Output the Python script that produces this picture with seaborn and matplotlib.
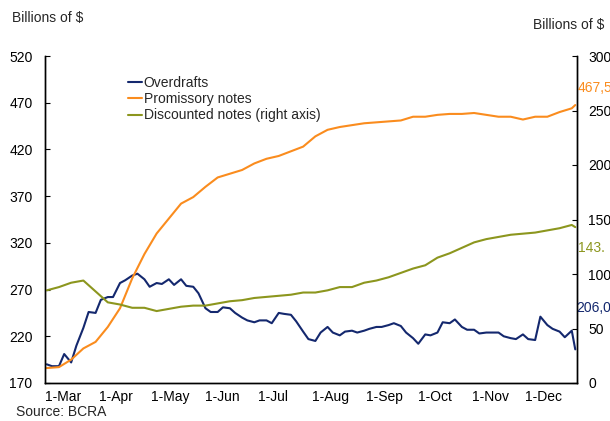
import pandas as pd
import matplotlib.pyplot as plt
import seaborn as sns

# --- data ---
mondays = pd.date_range('2020-03-02', '2020-12-28', freq='W-MON')
last_day = pd.Timestamp('2020-12-30')
weekly_dates = list(mondays) + [last_day]
twice_weekly_dates = sorted(list(mondays) + list(mondays[:-1] + pd.Timedelta(days=3))) + [last_day]

overdrafts = [
    190, 188, 188, 201, 192, 210, 229, 246, 245,
    259, 262, 262, 277, 280, 285, 287, 281, 273,
    277, 276, 281, 275, 281, 274, 273, 266,
    250, 246, 246, 251, 250, 245, 240, 237, 235,
    237, 237, 234, 245, 244, 243, 236, 225, 217,
    215, 224, 230, 224, 221, 225, 226, 224, 226,
    228, 230, 230, 232, 234, 231, 224, 218,
    212, 222, 221, 224, 235, 234, 238, 230, 227,
    227, 223, 224, 224, 224, 220, 218, 217, 222,
    217, 216, 241, 232, 228, 225, 219, 226, 206,
]

promissory = [
    186, 187, 195, 207, 214, 230, 250, 282, 308, 330, 346, 362, 369, 380,
    390, 394, 398, 405, 410, 413, 418, 423, 434, 441, 444, 446, 448, 449,
    450, 451, 455, 455, 457, 458, 458, 459, 457, 455, 455, 452, 455, 455,
    460, 464, 467.5,
]

discounted = [
    85, 88, 92, 94, 84, 74, 72, 69, 69, 66, 68, 70, 71, 71,
    73, 75, 76, 78, 79, 80, 81, 83, 83, 85, 88, 88, 92, 94,
    97, 101, 105, 108, 115, 119, 124, 129, 132, 134, 136, 137, 138, 140,
    142, 145, 143,
]

month_ticks = pd.date_range('2020-03-01', '2020-12-01', freq='MS')
month_labels = ['1-Mar', '1-Apr', '1-May', '1-Jun', '1-Jul',
                '1-Aug', '1-Sep', '1-Oct', '1-Nov', '1-Dec']

c_blue = '#14286E'
c_orange = '#FA8C1E'
c_olive = '#8C961E'

sns.set_style('white')
plt.rcParams['font.family'] = ['Liberation Sans', 'DejaVu Sans']
plt.rcParams['font.size'] = 10

fig = plt.figure(figsize=(6.1, 4.21), dpi=100)
ax = fig.add_axes([45 / 610, 38 / 421, 532 / 610, 327 / 421])
ax2 = ax.twinx()

sns.lineplot(x=twice_weekly_dates, y=overdrafts, ax=ax, color=c_blue,
             linewidth=1.5, label='Overdrafts', legend=False)
sns.lineplot(x=weekly_dates, y=promissory, ax=ax, color=c_orange,
             linewidth=1.5, label='Promissory notes', legend=False)
sns.lineplot(x=weekly_dates, y=discounted, ax=ax2, color=c_olive,
             linewidth=1.5, label='Discounted notes (right axis)', legend=False)

ax.set_xlim(pd.Timestamp('2020-03-01'), pd.Timestamp('2020-12-31'))
ax.set_ylim(170, 520)
ax.set_yticks(range(170, 521, 50))
ax2.set_ylim(0, 300)
ax2.set_yticks(range(0, 301, 50))

ax.set_xticks(month_ticks)
ax.set_xticklabels(month_labels, ha='left')
ax.set_xlabel('')
ax.set_ylabel('')
ax2.set_ylabel('')

for a in (ax, ax2):
    a.spines['top'].set_visible(False)
    for s in ('left', 'right', 'bottom'):
        a.spines[s].set_color('black')
        a.spines[s].set_linewidth(1.0)
    a.tick_params(direction='in', length=3.5, width=0.8, colors='black')
ax.tick_params(axis='y', pad=9)
ax.tick_params(axis='x', pad=5)
ax2.tick_params(axis='y', pad=8)

# legend combining both axes
h1, l1 = ax.get_legend_handles_labels()
h2, l2 = ax2.get_legend_handles_labels()
ax2.legend(h1 + h2, l1 + l2, loc='upper left', bbox_to_anchor=(0.145, 0.955),
           frameon=False, handlelength=1.0, handletextpad=0.15,
           labelspacing=0.15, borderaxespad=0)

# end-value labels (cut by the figure edge as in the original)
ax.annotate('467,5', xy=(last_day, promissory[-1]), xytext=(2, 12),
            textcoords='offset points', color=c_orange, va='center', ha='left')
ax2.annotate('143.', xy=(last_day, discounted[-1]), xytext=(2, -15),
             textcoords='offset points', color=c_olive, va='center', ha='left')
ax.annotate('206,0', xy=(last_day, overdrafts[-1]), xytext=(1, 30),
            textcoords='offset points', color=c_blue, va='center', ha='left')

fig.text(12 / 610, 1 - 18 / 421, 'Billions of $', va='center', ha='left')
fig.text(533 / 610, 1 - 25 / 421, 'Billions of $', va='center', ha='left')
fig.text(16 / 610, 1 - 412 / 421, 'Source: BCRA', va='center', ha='left')

plt.savefig('out.png', dpi=100)
